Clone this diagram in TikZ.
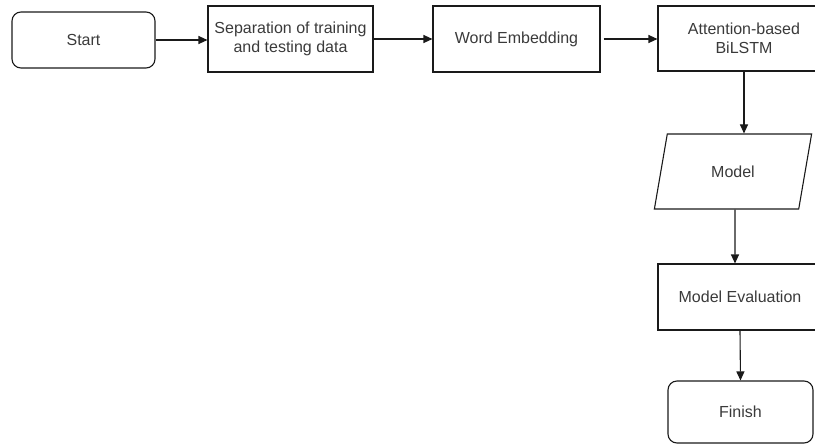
\documentclass[tikz,border=0pt]{standalone}
\usepackage{fontspec}
\setmainfont{Liberation Sans}
\usetikzlibrary{shapes.geometric,arrows.meta,calc}
\definecolor{txt}{HTML}{3A3A3A}
\definecolor{ln}{HTML}{1A1A1A}
\begin{document}
\begin{tikzpicture}[x=1pt,y=-1pt,
  every node/.style={font=\fontsize{16}{18.5}\selectfont, text=txt, align=center, inner sep=0pt},
  box/.style={draw=ln, line width=1.1pt, rectangle},
  term/.style={box, rounded corners=9pt},
  para/.style={draw=ln, line width=1.1pt, shape=trapezium, trapezium left angle=70, trapezium right angle=110, trapezium stretches=true},
  arr/.style={draw=ln, line width=1.1pt, -{Triangle[length=9pt,width=8pt]}}]
\useasboundingbox (0,0) rectangle (815,445);
\node[term, minimum width=143pt, minimum height=56pt] (start) at (83.5,40) {Start};
\node[box, minimum width=165pt, minimum height=66pt] (sep) at (290.5,39) {Separation of training\\and testing data};
\node[box, minimum width=167pt, minimum height=66pt] (we) at (516.5,39) {Word Embedding};
\node[box, minimum width=172pt, minimum height=65pt] (att) at (744,38.5) {Attention-based\\BiLSTM};
\node[para, minimum width=158pt, minimum height=75pt] (model) at (733,171.5) {Model};
\node[box, minimum width=164pt, minimum height=66pt] (me) at (740,297) {Model Evaluation};
\node[term, minimum width=145pt, minimum height=62pt] (finish) at (740.5,412) {Finish};
\draw[arr] (start.east) -- (start.east -| sep.west);
\draw[arr] (sep.east) -- (we.west);
\draw[arr] ($(we.east)+(3,0)$) -- (we.east -| att.west);
\draw[arr] (att.south) -- (att.south |- model.north);
\draw[arr] ($(model.south)+(2,0)$) -- ($(me.north)+(-5,0)$);
\draw[arr] (me.south) -- (finish.north);
\end{tikzpicture}
\end{document}
